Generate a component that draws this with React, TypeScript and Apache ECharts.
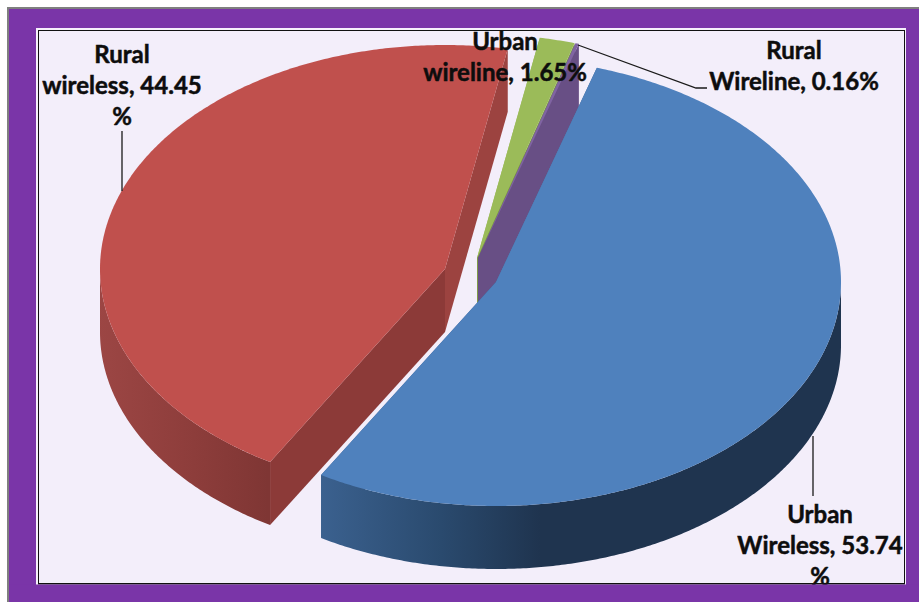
import React, { useEffect, useRef } from "react";
import * as echarts from "echarts";

// Chart data (clockwise order from the first slice)
const categories = ["Urban Wireless", "Rural wireless", "Urban wireline", "Rural Wireline"];
const values = [53.74, 44.45, 1.65, 0.16];
const labelLines = [
  ["Urban", "Wireless, 53.74", "%"],
  ["Rural", "wireless, 44.45", "%"],
  ["Urban", "wireline, 1.65%"],
  ["Rural", "Wireline, 0.16%"],
];

// Layout and style
const START_ANGLE = 17;
const RX = 345;
const RY = 224;
const DEPTH = 63;
const sliceCentres = [[496, 282], [445, 269], [477, 258], [478, 258]];
const sliceLayer = [4, 3, 1, 2];
const topColours = ["#4f81bd", "#c0504d", "#9bbb59", "#8064a2"];
const cutColours = [
  ["#3a608e", "#3a608e"],
  ["#8c3a38", "#9c4340"],
  ["#9bbb59", "#7f9a48"],
  ["#684f85", "#684f85"],
];
const wallStops = [
  [{ offset: 0, color: "#3b618f" }, { offset: 0.55, color: "#2a4a6e" }, { offset: 1, color: "#1f344f" }],
  [{ offset: 0, color: "#9c4644" }, { offset: 0.5, color: "#8f3e3c" }, { offset: 1, color: "#7f3634" }],
];
const wallRange = [[320, 540], [98, 268]];
const labelCentres = [[820, 513], [122, 53], [505, 40], [794, 49]];
const LINE_H = 31;

function pt(c: number[], deg: number, dy = 0) {
  const a = (deg * Math.PI) / 180;
  return [c[0] + RX * Math.sin(a), c[1] - RY * Math.cos(a) + dy];
}
function arc(c: number[], a0: number, a1: number, dy = 0) {
  const n = Math.max(1, Math.ceil(Math.abs(a1 - a0) * 2));
  const out: number[][] = [];
  for (let i = 0; i <= n; i++) out.push(pt(c, a0 + ((a1 - a0) * i) / n, dy));
  return out;
}

function renderSlice(params: any, api: any) {
  const i = params.dataIndex;
  const total = values.reduce((s, v) => s + v, 0);
  const before = values.slice(0, i).reduce((s, v) => s + v, 0);
  const a0 = START_ANGLE + (before / total) * 360;
  const a1 = a0 + (api.value(0) / total) * 360;
  const c = sliceCentres[i];
  const z2 = sliceLayer[i];
  const children: any[] = [];
  const poly = (points: number[][], fill: any, bump = 0) => ({
    type: "polygon",
    z2: z2 * 10 + bump,
    shape: { points },
    style: { fill },
  });
  const below = (p: number[]) => [p[0], p[1] + DEPTH];

  // radial cut faces
  const p0 = pt(c, a0);
  const p1 = pt(c, a1);
  children.push(poly([c, p0, below(p0), below(c)], cutColours[i][0], 1));
  children.push(poly([c, p1, below(p1), below(c)], cutColours[i][1], 1));

  // outer wall, front half only (angles 90..270)
  const w0 = Math.max(a0, 90);
  const w1 = Math.min(a1, 270);
  if (w1 > w0 && i < 2) {
    const topEdge = arc(c, w0, w1);
    const lowEdge = arc(c, w1, w0, DEPTH);
    const [x0, x1] = wallRange[i];
    children.push(
      poly([...topEdge, ...lowEdge], {
        type: "linear",
        x: x0,
        y: 0,
        x2: x1,
        y2: 0,
        global: true,
        colorStops: wallStops[i],
      }, 2)
    );
  }

  // top face
  children.push(poly([c, ...arc(c, a0, a1)], topColours[i], 3));
  return { type: "group", children };
}

export default function App() {
  const ref = useRef<HTMLDivElement>(null);
  useEffect(() => {
    document.body.style.margin = "0";
    const chart = echarts.init(ref.current!, undefined, { renderer: "svg" });
    const rect = (x: number, y: number, width: number, height: number, fill: string, z = 0) => ({
      type: "rect",
      z,
      silent: true,
      shape: { x, y, width, height },
      style: { fill },
    });
    const leader = (points: number[][]) => ({
      type: "polyline",
      z: 20,
      silent: true,
      shape: { points },
      style: { stroke: "#1a1a1a", lineWidth: 1.3, fill: "none" },
    });
    const texts = labelLines.flatMap((lines, i) =>
      lines.map((line, j) => ({
        type: "text",
        z: 20,
        silent: true,
        x: labelCentres[i][0],
        y: labelCentres[i][1] + j * LINE_H,
        style: {
          text: line,
          fill: "#0d0d0d",
          stroke: "#0d0d0d",
          lineWidth: 0.5,
          font: 'bold 24px Lato, "Noto Sans", sans-serif',
          align: "center",
          verticalAlign: "middle",
        },
      }))
    );
    chart.setOption({
      animation: false,
      graphic: {
        elements: [
          rect(7, 7, 912, 595, "#7f7f7f", 0),
          rect(9, 9, 910, 593, "#7a35a8", 0),
          rect(36, 28, 870, 557, "#f6f1fb", 0),
          rect(38, 30, 867, 554, "#111111", 0),
          rect(39, 31, 865, 552, "#f3eefa", 0),
          leader([[122, 131], [122, 191]]),
          leader([[578, 45], [696, 88], [707, 88]]),
          leader([[813, 436], [813, 496]]),
          ...texts,
          rect(38, 583, 867, 1.5, "#111111", 30),
          rect(9, 584.5, 910, 18, "#7a35a8", 30),
        ],
      },
      series: [
        {
          type: "custom",
          coordinateSystem: "none",
          renderItem: renderSlice,
          data: categories.map((name, i) => ({ name, value: values[i] })),
        },
      ],
    });
    return () => chart.dispose();
  }, []);
  return <div ref={ref} style={{ width: 919, height: 602 }} />;
}
